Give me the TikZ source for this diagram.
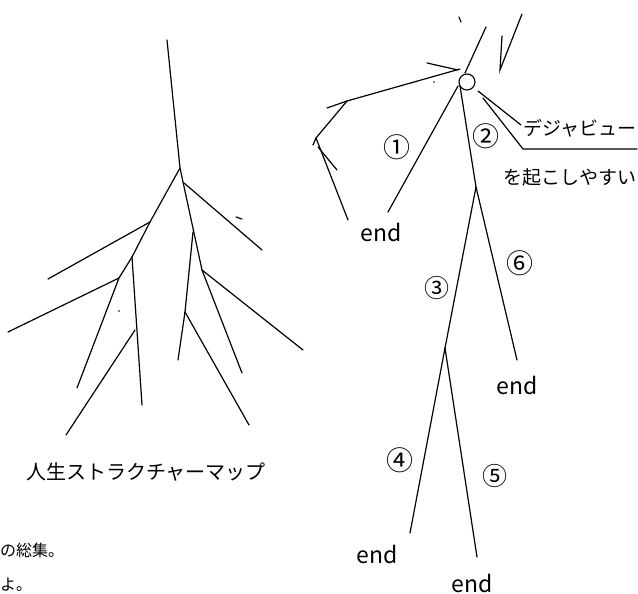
\documentclass[tikz,border=0pt]{standalone}
\usepackage{fontspec}
\setmainfont{Noto Sans CJK JP}
\begin{document}
\begin{tikzpicture}[x=1pt,y=-1pt,
  ln/.style={line width=1.2pt,line cap=round},
  jp/.style={inner sep=0pt,font=\fontsize{19}{19}\selectfont},
  endlbl/.style={inner sep=0pt,font=\fontsize{23}{23}\selectfont},
  num/.style={inner sep=0pt,font=\fontsize{27}{27}\selectfont}]
\useasboundingbox[fill=white] (0,0) rectangle (638,594);
\clip (0,0) rectangle (638,594);
% ---------- left tree ----------
\coordinate (t0) at (167,40);
\coordinate (t1) at (180,168);
\coordinate (a1) at (150,222);
\coordinate (a2) at (132,257);
\coordinate (a3) at (119,278);
\coordinate (a4) at (77,388);
\coordinate (b1) at (48,279);
\coordinate (b2) at (8,332);
\coordinate (c1) at (142,405);
\coordinate (c2) at (135,330);
\coordinate (c3) at (66,435);
\coordinate (r1) at (184,183);
\coordinate (r2) at (262,250);
\coordinate (m1) at (202,270);
\coordinate (m2) at (242,373);
\coordinate (n1) at (303,350);
\coordinate (k0) at (193,232);
\coordinate (k1) at (185,312);
\coordinate (k2) at (178,360);
\coordinate (k3) at (249,425);
\coordinate (d1) at (236,217);
\coordinate (d2) at (242,219);
\draw[ln] (t0) -- (t1) -- (a1) -- (a2) -- (a3) -- (a4);
\draw[ln] (a1) -- (b1);
\draw[ln] (a3) -- (b2);
\draw[ln] (a2) -- (c1);
\draw[ln] (c2) -- (c3);
\draw[ln] (t1) -- (m1) -- (m2);
\draw[ln] (r1) -- (r2);
\draw[ln] (m1) -- (n1);
\draw[ln] (k0) -- (k1) -- (k2);
\draw[ln] (k1) -- (k3);
\draw[ln] (d1) -- (d2);
\fill (119,311) circle (0.9);
\node[jp,font=\fontsize{20}{20}\selectfont] (title) at (146,472) {人生ストラクチャーマップ};
\node[jp,anchor=west,font=\fontsize{16}{16}\selectfont] (s1) at (0,550) {の総集。};
\node[jp,anchor=west,font=\fontsize{16}{16}\selectfont] (s2) at (0,585) {よ。};
% ---------- right tree ----------
\node[draw,circle,line width=1.1pt,minimum size=16pt,inner sep=0pt] (ring) at (467,82) {};
\coordinate (u0) at (486,27);
\coordinate (u1) at (465,73);
\draw[ln] (u0) -- (u1);
\coordinate (tk0) at (459,17);
\coordinate (tk1) at (461,22);
\draw[ln] (tk0) -- (tk1);
\coordinate (v0) at (522,14);
\coordinate (v1) at (500,70);
\coordinate (v2) at (502,36);
\draw[ln] (v0) -- (v1) -- (v2);
\coordinate (p0) at (327,108);
\coordinate (p1) at (347,101);
\coordinate (p2) at (460,69);
\coordinate (q0) at (427,63);
\coordinate (q1) at (458,70);
\draw[ln] (p0) -- (p1) -- (p2);
\draw[ln] (q0) -- (q1);
\fill (434,82) circle (0.9);
\coordinate (w1) at (316,138);
\coordinate (w0) at (313,145);
\coordinate (w2) at (348,220);
\coordinate (w3) at (318,147);
\coordinate (w4) at (337,170);
\draw[ln] (p1) -- (w1) -- (w2);
\draw[ln] (w1) -- (w0);
\draw[ln] (w3) -- (w4);
% branch 1
\coordinate (o1) at (458,86);
\coordinate (e1) at (388,212);
\draw[ln] (o1) -- (e1);
\node[endlbl] (end1) at (381,232) {end};
\node[num] (n1l) at (397,147) {①};
% main
\coordinate (o2) at (460,86);
\coordinate (j3) at (476,187);
\coordinate (e6) at (517,360);
\draw[ln] (o2) -- (j3) -- (e6);
\node[num] (n2l) at (486,136) {②};
\node[num] (n6l) at (520,263) {⑥};
\node[endlbl] (end6) at (517,385) {end};
% branch 3/4/5
\coordinate (j4) at (445,348);
\coordinate (e4) at (410,533);
\coordinate (e5) at (477,557);
\draw[ln] (j3) -- (j4) -- (e4);
\draw[ln] (j4) -- (e5);
\node[num,font=\fontsize{25}{25}\selectfont] (n3l) at (437,288) {③};
\node[num] (n4l) at (400,460) {④};
\node[num,font=\fontsize{25}{25}\selectfont] (n5l) at (495,476) {⑤};
\node[endlbl] (end4) at (377,554) {end};
\node[endlbl,anchor=base] (end5) at (472,592) {end};
% deja vu note
\coordinate (g0) at (478,91);
\coordinate (g1) at (521,125);
\coordinate (h0) at (483,98);
\coordinate (h1) at (523,149);
\coordinate (h2) at (637,149);
\draw[ln] (g0) -- (g1);
\draw[ln] (h0) -- (h1) -- (h2);
\node[jp,anchor=west] (dv) at (523,128) {デジャビュー};
\node[jp,anchor=west] (dv2) at (503,177) {を起こしやすい};
\end{tikzpicture}
\end{document}
